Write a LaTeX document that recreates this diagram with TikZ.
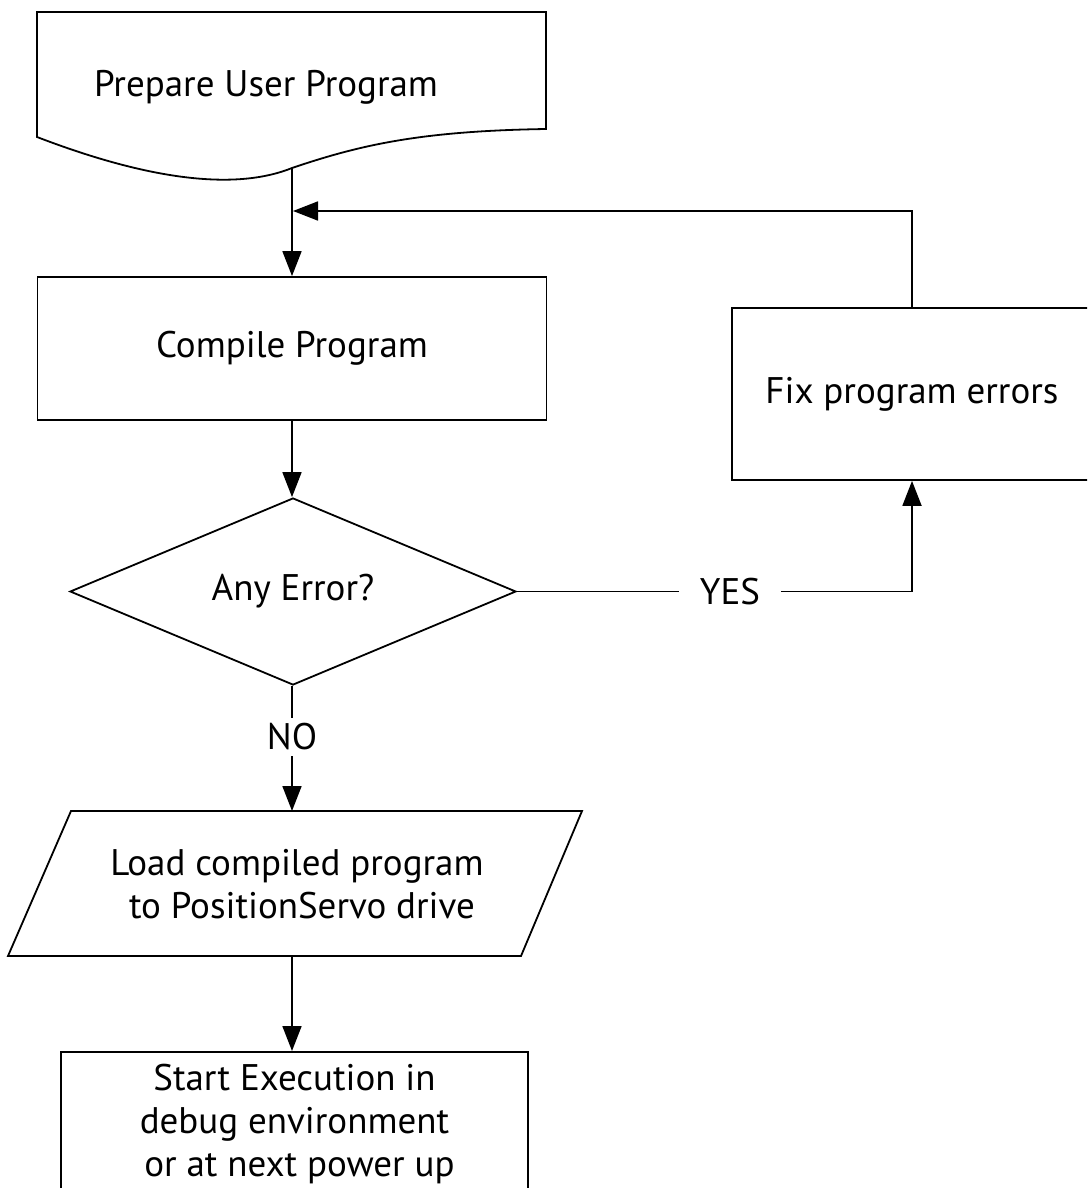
\documentclass[tikz,border=0pt]{standalone}
\usepackage{fontspec}
\setmainfont{PT Sans}
\usetikzlibrary{arrows.meta,shapes.geometric}
\begin{document}
\begin{tikzpicture}[x=1pt,y=-1pt,
  line width=1.8pt,
  >={Triangle[length=25pt,width=19pt]},
  txt/.style={font=\fontsize{37}{43}\selectfont, inner sep=0pt, align=center},
  box/.style={draw, rectangle, inner sep=0pt, font=\fontsize{37}{43}\selectfont},
  decision/.style={draw, diamond, aspect=2.36, inner sep=0pt, font=\fontsize{37}{43}\selectfont},
  label/.style={font=\fontsize{37}{43}\selectfont, inner xsep=20pt, inner ysep=5pt}
]
\useasboundingbox (0,0) rectangle (1087,1188);
\clip (0,0) rectangle (1087,1188);

% document shape
\coordinate (prepout) at (292,168);
\draw (37,137) -- (37,12) -- (546,12) -- (546,129)
  .. controls (420,131) and (360,145) .. (prepout)
  .. controls (250,185) and (175,190) .. (37,137) -- cycle;
\node[txt, anchor=base] (prep) at (266,97) {Prepare User Program};

% compile
\node[box, minimum width=509pt, minimum height=143pt] (compile) at (292,348.5) {Compile Program};

% decision
\node[decision, minimum width=446pt, minimum height=187pt] (err) at (293,591.5) {Any Error?};

% fix box (right edge beyond page)
\node[box, minimum width=360pt, minimum height=172pt] (fix) at (912,394) {Fix program errors};

% load parallelogram
\coordinate (ltl) at (71,811);
\coordinate (ltr) at (582,811);
\coordinate (lbr) at (521,956);
\coordinate (lbl) at (8,956);
\draw (ltl) -- (ltr) -- (lbr) -- (lbl) -- cycle;
\node[txt] (load) at (297,884) {Load compiled program\\ \ to PositionServo drive};
\coordinate (loadtop) at (292,811);
\coordinate (loadbot) at (292,956);

% start box (bottom beyond page)
\node[box, anchor=north, minimum width=467pt, minimum height=220pt] (start) at (294.5,1051) {};
\node[txt] (starttxt) at (294.5,1124) {Start Execution in\\debug environment\\ \ or at next power up};

% labels
\node[label] (no) at (292,737) {NO};
\node[label] (yes) at (730,591.5) {YES};

% connectors
\coordinate (fb) at (293,211);
\draw[->] (prepout) -- (compile.north);
\draw[->] (compile.south) -- (compile.south |- err.north);
\draw (compile.south |- err.south) -- (compile.south |- no.north);
\draw[->] (compile.south |- no.south) -- (loadtop);
\draw[->] (loadbot) -- (loadbot |- start.north);
\draw (err.east) -- (yes.west);
\draw[->] (yes.east) -| (fix.south);
\draw[->] (fix.north) |- (fb);
\end{tikzpicture}
\end{document}
